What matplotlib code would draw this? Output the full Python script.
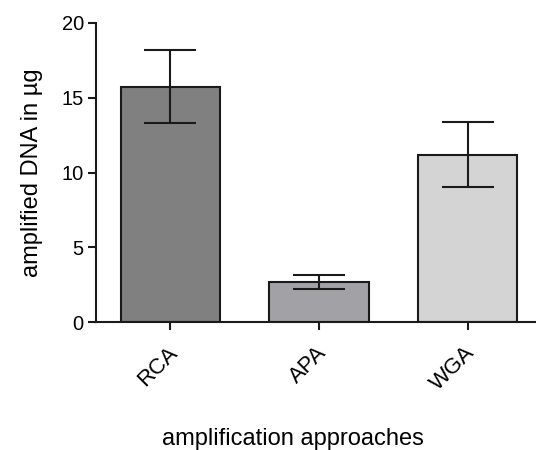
import matplotlib.pyplot as plt
import matplotlib.transforms as mtransforms
import numpy as np

plt.rcParams['font.family'] = ['Liberation Sans', 'DejaVu Sans']

approaches = ['RCA', 'APA', 'WGA']
dna_mean = [15.75, 2.68, 11.2]
dna_err = [2.45, 0.47, 2.2]
bar_colors = ['#808080', '#a2a2a6', '#d4d4d4']

fig = plt.figure(figsize=(5.36, 4.5), dpi=100)
ax = fig.add_axes([96 / 536, 128 / 450, 440 / 536, 299 / 450])

x = np.arange(len(approaches))
ax.bar(x, dna_mean, width=0.67, color=bar_colors, edgecolor='#1a1a1a', linewidth=1.5, zorder=2)
ax.errorbar(x, dna_mean, yerr=dna_err, fmt='none', ecolor='#1a1a1a',
            elinewidth=1.5, capsize=18.4, capthick=1.5, zorder=3)

ax.set_xlim(-0.5, 2.46)
ax.set_ylim(0, 20)
ax.set_yticks([0, 5, 10, 15, 20])
ax.set_xticks(x)
ax.set_xticklabels(approaches, rotation=45, ha='right', rotation_mode='anchor')

for side in ['top', 'right']:
    ax.spines[side].set_visible(False)
for side in ['left', 'bottom']:
    ax.spines[side].set_linewidth(1.5)
    ax.spines[side].set_color('#1a1a1a')

ax.tick_params(axis='both', length=5.8, width=1.5, color='#1a1a1a')
ax.tick_params(axis='y', labelsize=14.5, pad=3)
ax.tick_params(axis='x', labelsize=16, pad=9)

# nudge the rotated labels a little to the left
shift = mtransforms.ScaledTranslation(-3 / 100, 0, fig.dpi_scale_trans)
for lbl in ax.get_xticklabels():
    lbl.set_transform(lbl.get_transform() + shift)

ax.set_xlabel('amplification approaches', fontsize=17)
ax.xaxis.set_label_coords(0.447, -0.355)
ax.set_ylabel('amplified DNA in µg', fontsize=17)
ax.yaxis.set_label_coords(-0.12, 0.5)

plt.savefig('out.png', dpi=100)
